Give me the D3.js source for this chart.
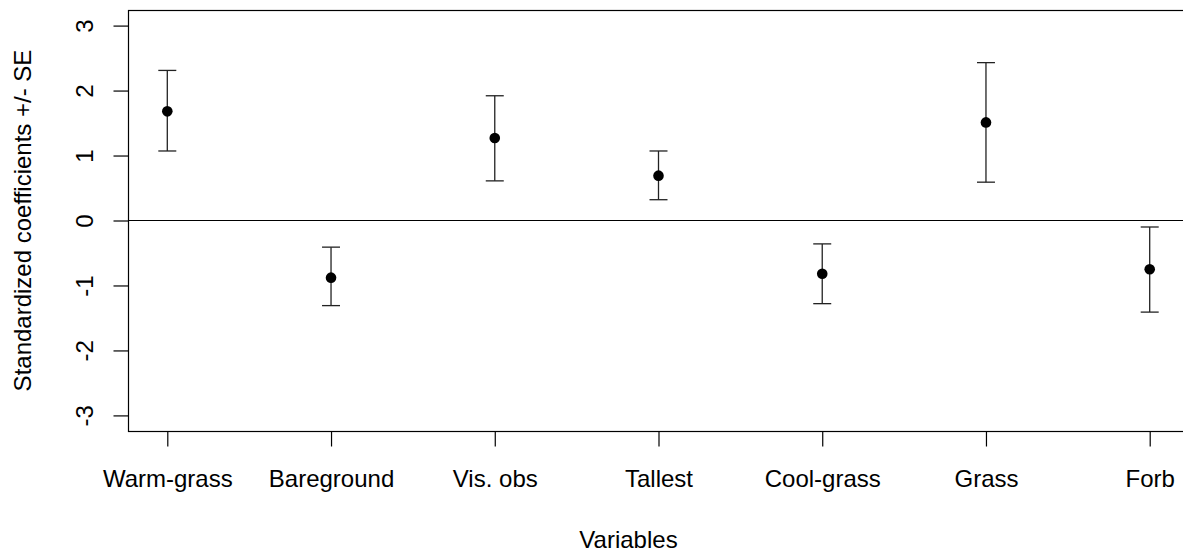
<!DOCTYPE html>
<html><head><meta charset="utf-8">
<script src="https://cdn.jsdelivr.net/npm/d3@7"></script>
<style>body{margin:0;background:#fff}svg{display:block}text{font-family:"Liberation Sans",Arial,sans-serif;fill:#000}</style>
</head><body>
<svg id="c" width="1183" height="552"></svg>
<script>
const categories = ["Warm-grass","Bareground","Vis. obs","Tallest","Cool-grass","Grass","Forb"];
const estimates = [1.68, -0.88, 1.27, 0.69, -0.82, 1.51, -0.75];
const upper = [2.31, -0.41, 1.92, 1.07, -0.36, 2.43, -0.10];
const lower = [1.07, -1.31, 0.61, 0.32, -1.28, 0.59, -1.41];
const yTicks = [-3, -2, -1, 0, 1, 2, 3];

const svg = d3.select("#c");
const L = 128, R = 1189, T = 10, B = 431;
const x = d3.scaleLinear().domain([0.76, 7.24]).range([L, R]);
const y = d3.scaleLinear().domain([-3.24, 3.24]).range([B, T]);
const fs = 24;

// box
svg.append("rect").attr("x", L+0.5).attr("y", T+0.5).attr("width", R-L).attr("height", B-T)
  .attr("fill","none").attr("stroke","#000").attr("stroke-width",1.2);

// y axis
const yAxis = svg.append("g").attr("transform", `translate(${L+0.5},0)`)
  .call(d3.axisLeft(y).tickValues(yTicks).tickSize(15).tickFormat(d3.format("d")));
yAxis.select(".domain").remove();
yAxis.selectAll("line").attr("stroke","#000").attr("stroke-width",1.2);
yAxis.selectAll("text").remove();
yAxis.selectAll(".tick").append("text")
  .attr("transform","translate(-44,0) rotate(-90)")
  .attr("text-anchor","middle").attr("dy","0.35em")
  .style("font-size", fs+"px").text(d => d);

// x axis
const xAxis = svg.append("g").attr("transform", `translate(0,${B+0.5})`)
  .call(d3.axisBottom(x).tickValues(d3.range(1, categories.length+1)).tickSize(15)
    .tickFormat(d => categories[d-1]));
xAxis.select(".domain").remove();
xAxis.selectAll("line").attr("stroke","#000").attr("stroke-width",1.2);
xAxis.selectAll("text").attr("y", 55).attr("dy", 0).style("font-size", fs+"px").attr("fill","#000");

// zero line
svg.append("line").attr("x1", L).attr("x2", R).attr("y1", y(0)).attr("y2", y(0))
  .attr("stroke","#000").attr("stroke-width",1.2);

// error bars
const g = svg.append("g");
categories.forEach((c, i) => {
  const cx = x(i+1);
  g.append("line").attr("x1",cx).attr("x2",cx).attr("y1",y(upper[i])).attr("y2",y(lower[i]))
    .attr("stroke","#222").attr("stroke-width",1.3);
  [upper[i], lower[i]].forEach(v => {
    g.append("line").attr("x1",cx-9).attr("x2",cx+9).attr("y1",y(v)).attr("y2",y(v))
      .attr("stroke","#222").attr("stroke-width",1.3);
  });
  g.append("circle").attr("cx",cx).attr("cy",y(estimates[i])).attr("r",5.3).attr("fill","#000");
});

// axis titles
svg.append("text").attr("x", (L+R)/2 - 30).attr("y", 548).attr("text-anchor","middle")
  .style("font-size", fs+"px").text("Variables");
svg.append("text").attr("transform", `translate(31,${(T+B)/2}) rotate(-90)`)
  .attr("text-anchor","middle").style("font-size", fs+"px").text("Standardized coefficients +/- SE");
</script>
</body></html>
